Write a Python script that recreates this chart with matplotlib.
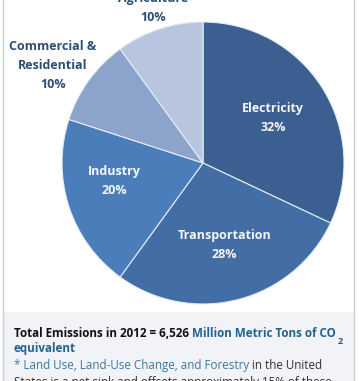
import numpy as np
import matplotlib
matplotlib.use("Agg")
import matplotlib.pyplot as plt
from matplotlib.patches import Rectangle

plt.rcParams['font.family'] = ['Open Sans', 'DejaVu Sans']

sectors = ["Electricity", "Transportation", "Industry", "Commercial &\nResidential", "Agriculture"]
shares = [32, 28, 20, 10, 10]
colors = ["#3a5f90", "#426ea5", "#4c7dbb", "#8ca4cc", "#b8c5de"]
# label placement: radius (in pie radii) and angle nudge (deg)
label_r = [0.59, 0.60, 0.64, 1.27, 1.155]
label_da = [0, 0.5, -6.5, 3, 0]
label_col = ["#f4f6fa", "#f4f6fa", "#f4f6fa", "#2c4f73", "#2c4f73"]

total_year = 2012
total_value = "6,526"

W, H = 359, 381
fig = plt.figure(figsize=(W / 100, H / 100), dpi=100)
fig.patch.set_facecolor("white")

# frame + grey note panel
bg = fig.add_axes([0, 0, 1, 1])
bg.set_xlim(0, W)
bg.set_ylim(H, 0)
bg.axis('off')
bg.add_patch(Rectangle((3, 312), 351, 80, facecolor="#f1f3f6", edgecolor="none"))
bg.plot([3, 3], [0, H], color="#c9ccd1", lw=1)
bg.plot([354, 354], [0, H], color="#c9ccd1", lw=1)

# pie
cx, cy, r = 203, 163, 141
ax = fig.add_axes([(cx - r) / W, (H - cy - r) / H, 2 * r / W, 2 * r / H])
wedges, _ = ax.pie(shares, colors=colors, startangle=90, counterclock=False,
                   radius=1, wedgeprops=dict(edgecolor="#e4ecf6", linewidth=0.8))
ax.set_xlim(-1, 1)
ax.set_ylim(-1, 1)
ax.axis('off')

for w, name, pct, rr, da, c in zip(wedges, sectors, shares, label_r, label_da, label_col):
    ang = np.deg2rad((w.theta1 + w.theta2) / 2 + da)
    x, y = rr * np.cos(ang), rr * np.sin(ang)
    ax.text(x, y, f"{name}\n{pct}%", ha='center', va='center', fontsize=9,
            fontweight='bold', color=c, linespacing=1.6, clip_on=False)

# note text
fs = 8.35
t1 = bg.text(14, 337, f"Total Emissions in {total_year} = {total_value} ", fontsize=fs,
             fontweight='bold', color="#111111", va='baseline')
t2 = bg.annotate("Million Metric Tons of CO", xy=(1, 0), xycoords=t1, fontsize=fs,
                 fontweight='bold', color="#22628f", va='bottom')
bg.annotate("2", xy=(1, 0), xycoords=t2, xytext=(1.5, -4), textcoords='offset points',
            fontsize=6.5, fontweight='bold', color="#22628f", va='bottom')
bg.text(14, 352, "equivalent", fontsize=fs, fontweight='bold', color="#22628f", va='baseline')
t3 = bg.text(14, 369, "* Land Use, Land-Use Change, and Forestry", fontsize=fs,
             color="#3a78a6", va='baseline')
bg.annotate(" in the United", xy=(1, 0), xycoords=t3, fontsize=fs, color="#333333", va='bottom')
bg.text(14, 386, "States is a net sink and offsets approximately 15% of these", fontsize=fs,
        color="#333333", va='baseline')

fig.savefig("out.png", dpi=100)
